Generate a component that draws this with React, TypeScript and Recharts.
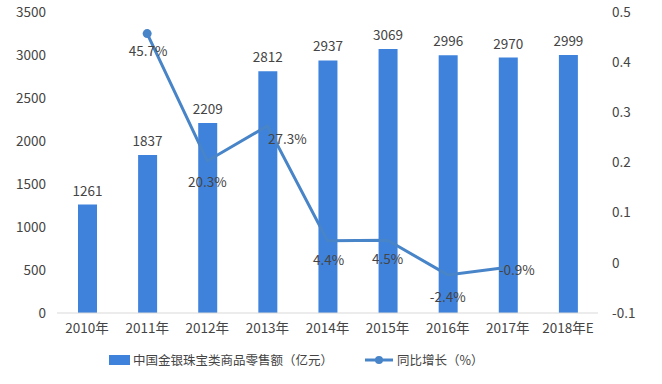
import {
  ComposedChart,
  Bar,
  Line,
  XAxis,
  YAxis,
  Legend,
  LabelList,
} from 'recharts';

const years = ['2010年', '2011年', '2012年', '2013年', '2014年', '2015年', '2016年', '2017年', '2018年E'];
const salesValues = [1261, 1837, 2209, 2812, 2937, 3069, 2996, 2970, 2999];
const growthValues = [null, 0.457, 0.203, 0.273, 0.044, 0.045, -0.024, -0.009, null];
const leftTicks = [0, 500, 1000, 1500, 2000, 2500, 3000, 3500];
const rightTicks = [-0.1, 0, 0.1, 0.2, 0.3, 0.4, 0.5];

const barName = '中国金银珠宝类商品零售额（亿元）';
const lineName = '同比增长（%）';

const BAR_COLOR = '#3F82DC';
const LINE_COLOR = '#4884C8';
const TEXT_COLOR = '#444';
const FONT = '"Noto Sans CJK SC", "Noto Sans", sans-serif';
const FONT_SIZE = 13.5;

// where each growth label sits relative to its point
const growthLabelShift: Record<string, [number, number]> = {
  '2011年': [1, 16],
  '2012年': [0, 20],
  '2013年': [20, 12],
  '2014年': [1, 18],
  '2015年': [0, 18],
  '2016年': [0, 21],
  '2017年': [9, 2],
};

const data = years.map((year, i) => ({
  year,
  sales: salesValues[i],
  growth: growthValues[i],
}));

const firstGrowthIndex = growthValues.findIndex((v) => v !== null);

function GrowthDot(props: any) {
  const { cx, cy, index } = props;
  if (index !== firstGrowthIndex || cy == null) return <g key={index} />;
  return <circle key={index} cx={cx} cy={cy} r={4.5} fill={LINE_COLOR} />;
}

function GrowthLabel(props: any) {
  const { x, y, value, index } = props;
  if (value == null) return null;
  const [dx, dy] = growthLabelShift[years[index]] ?? [0, 18];
  return (
    <text
      x={x + dx}
      y={y + dy}
      textAnchor="middle"
      dominantBaseline="central"
      fontSize={FONT_SIZE}
      fill={TEXT_COLOR}
      fontFamily={FONT}
    >
      {`${(value * 100).toFixed(1)}%`}
    </text>
  );
}

function ChartLegend() {
  return (
    <div
      style={{
        display: 'flex',
        justifyContent: 'flex-start',
        alignItems: 'center',
        paddingLeft: 105,
        paddingTop: 7,
        fontFamily: FONT,
        fontSize: 12.5,
        color: TEXT_COLOR,
      }}
    >
      <svg width={21} height={10} style={{ marginRight: 3 }}>
        <rect x={0} y={0} width={21} height={10} fill={BAR_COLOR} />
      </svg>
      <span>{barName}</span>
      <svg width={28} height={10} style={{ marginLeft: 32, marginRight: 4 }}>
        <line x1={0} y1={5} x2={28} y2={5} stroke={LINE_COLOR} strokeWidth={3} />
        <circle cx={14} cy={5} r={4} fill={LINE_COLOR} />
      </svg>
      <span>{lineName}</span>
    </div>
  );
}

export default function App() {
  return (
    <div style={{ position: 'absolute', left: 0, top: 0, width: 662, height: 384, background: '#fff' }}>
      <ComposedChart
        width={662}
        height={384}
        data={data}
        margin={{ top: 12, right: 4, bottom: 11, left: 4 }}
        style={{ fontFamily: FONT }}
      >
        <XAxis
          dataKey="year"
          tickLine={false}
          tickSize={0}
          tickMargin={10}
          axisLine={{ stroke: '#D9D9D9', strokeWidth: 1 }}
          tick={{ fontSize: FONT_SIZE, fill: TEXT_COLOR }}
          height={30}
          interval={0}
        />
        <YAxis
          yAxisId="left"
          domain={[0, 3500]}
          ticks={leftTicks}
          width={53}
          axisLine={false}
          tickLine={false}
          tickSize={0}
          tickMargin={11}
          tick={{ fontSize: FONT_SIZE, fill: TEXT_COLOR }}
        />
        <YAxis
          yAxisId="right"
          orientation="right"
          domain={[-0.1, 0.5]}
          ticks={rightTicks}
          width={60}
          axisLine={false}
          tickLine={false}
          tickSize={0}
          tickMargin={14}
          tick={{ fontSize: FONT_SIZE, fill: TEXT_COLOR }}
        />
        <Legend verticalAlign="bottom" height={30} content={<ChartLegend />} />
        <Bar
          yAxisId="left"
          dataKey="sales"
          name={barName}
          fill={BAR_COLOR}
          barSize={19}
          isAnimationActive={false}
        >
          <LabelList dataKey="sales" position="top" offset={9} fontSize={FONT_SIZE} fill={TEXT_COLOR} />
        </Bar>
        <Line
          yAxisId="right"
          dataKey="growth"
          name={lineName}
          stroke={LINE_COLOR}
          strokeWidth={3}
          dot={<GrowthDot />}
          activeDot={false}
          isAnimationActive={false}
        >
          <LabelList dataKey="growth" content={<GrowthLabel />} />
        </Line>
      </ComposedChart>
    </div>
  );
}
